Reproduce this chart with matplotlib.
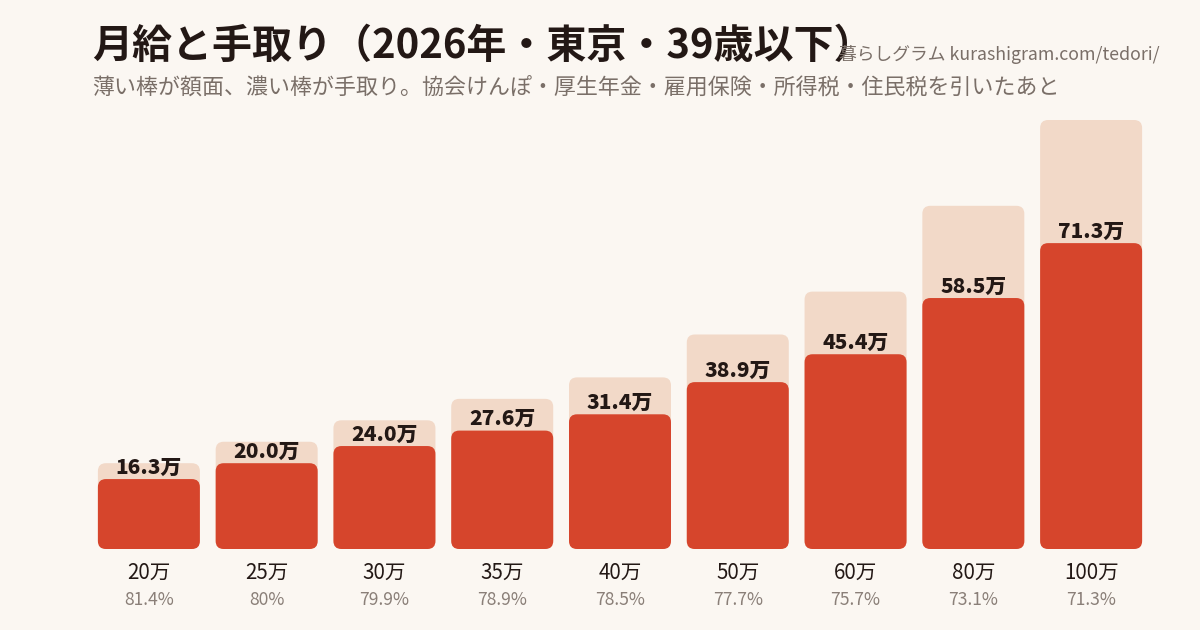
import matplotlib
matplotlib.use('Agg')
import matplotlib.pyplot as plt
from matplotlib.patches import FancyBboxPatch

plt.rcParams['font.family'] = ['Noto Sans CJK JP', 'DejaVu Sans']

# data (monthly salary, in 万円)
gross_labels = ['20万', '25万', '30万', '35万', '40万', '50万', '60万', '80万', '100万']
gross = [20, 25, 30, 35, 40, 50, 60, 80, 100]
net = [16.3, 20.0, 24.0, 27.6, 31.4, 38.9, 45.4, 58.5, 71.3]
net_labels = ['16.3万', '20.0万', '24.0万', '27.6万', '31.4万', '38.9万', '45.4万', '58.5万', '71.3万']
rate_labels = ['81.4%', '80%', '79.9%', '78.9%', '78.5%', '77.7%', '75.7%', '73.1%', '71.3%']

BG = '#fbf7f2'
LIGHT = '#f2d9c8'
RED = '#d6452c'
DARK = '#231815'
GRAY = '#7a6f68'
PCT_GRAY = '#8a7f78'

W, H = 1200, 630
fig = plt.figure(figsize=(W / 100, H / 100), dpi=100, facecolor=BG)
ax = fig.add_axes([90 / W, 81 / H, 1060 / W, 429 / H])
ax.set_facecolor(BG)
ax.set_xlim(-0.5, len(gross) - 0.5)
ax.set_ylim(0, 100)
ax.axis('off')

x = list(range(len(gross)))

# how many y-units per x-unit on screen, so the corners stay round
px_per_x = (1060 / len(gross))
px_per_y = 429 / 100
aspect = px_per_x / px_per_y
radius = 8 / px_per_x


def round_bars(bars, color):
    """Swap plain bar rectangles for rounded ones."""
    for rect in bars:
        bx, by = rect.get_x(), rect.get_y()
        bw, bh = rect.get_width(), rect.get_height()
        rect.set_visible(False)
        ax.add_patch(FancyBboxPatch(
            (bx, by), bw, bh,
            boxstyle=f'round,pad=0,rounding_size={radius}',
            mutation_aspect=aspect,
            facecolor=color, edgecolor='none', zorder=rect.get_zorder()))


round_bars(ax.bar(x, gross, width=0.866, zorder=1), LIGHT)
round_bars(ax.bar(x, net, width=0.866, zorder=2), RED)

for i in x:
    ax.annotate(net_labels[i], (i, net[i]), xytext=(0, 3.8),
                textcoords='offset points', ha='center', va='baseline',
                fontsize=15, fontweight='heavy', color=DARK, zorder=3)

tr = ax.get_xaxis_transform()
for i in x:
    ax.text(i, -24 / 429, gross_labels[i], transform=tr, ha='center',
            va='center', fontsize=14.8, color=DARK)
    ax.text(i, -51 / 429, rate_labels[i], transform=tr, ha='center',
            va='center', fontsize=12.6, color=PCT_GRAY)

fig.text(92 / W, 1 - 46 / H, '月給と手取り（2026年・東京・39歳以下）',
         ha='left', va='center', fontsize=28.8, fontweight='bold', color=DARK)
fig.text(92 / W, 1 - 89 / H,
         '薄い棒が額面、濃い棒が手取り。協会けんぽ・厚生年金・雇用保険・所得税・住民税を引いたあと',
         ha='left', va='center', fontsize=15.8, color=GRAY)
fig.text(1160 / W, 1 - 55 / H, '暮らしグラム kurashigram.com/tedori/',
         ha='right', va='center', fontsize=12.8, color=GRAY)

fig.savefig('out.png', dpi=100, facecolor=BG)
